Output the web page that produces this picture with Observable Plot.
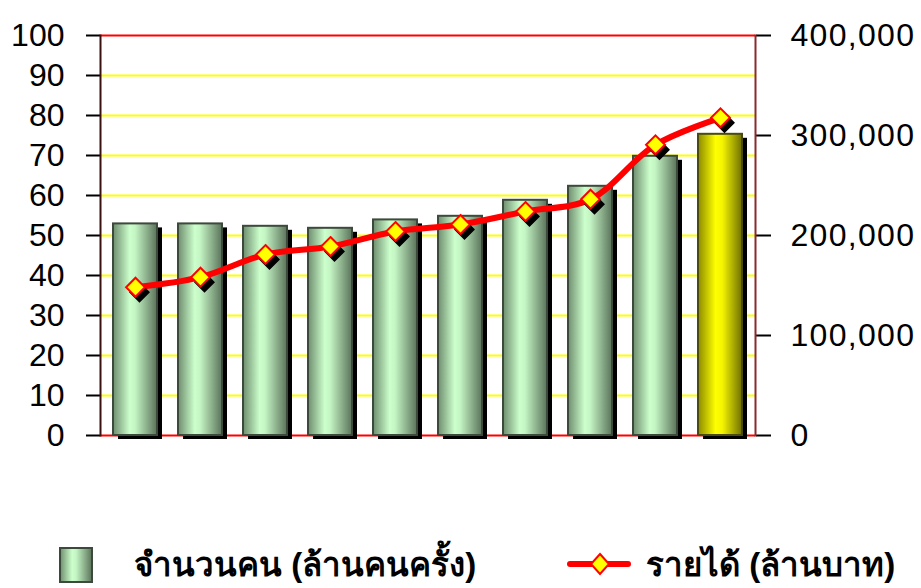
<!DOCTYPE html>
<html><head><meta charset="utf-8">
<script src="https://cdn.jsdelivr.net/npm/d3@7"></script>
<script src="https://cdn.jsdelivr.net/npm/@observablehq/plot@0.6"></script>
<style>
body{margin:0;background:#fff;font-family:Arial,"Liberation Sans",sans-serif;}
#chart svg{display:block;}
#legend{position:relative;width:921px;height:68px;overflow:hidden;}
#legend .item{position:absolute;font-weight:bold;font-size:33px;line-height:36px;color:#000;white-space:nowrap;}
</style></head><body>
<div id="chart"></div>
<div id="legend"></div>
<script>
const categories = ["2541","2542","2543","2544","2545","2546","2547","2548","2549","2550"];
const visitors = [52.9, 52.9, 52.3, 51.8, 53.9, 54.8, 58.8, 62.3, 69.8, 75.3];
const revenue = [148300, 158300, 181000, 189000, 204000, 211000, 224000, 236300, 290700, 317700];
const leftTicks = [0,10,20,30,40,50,60,70,80,90,100];
const rightTicks = [0,100000,200000,300000,400000];
const seriesNames = ["จำนวนคน (ล้านคนครั้ง)", "รายได้ (ล้านบาท)"];

const RATIO = 4000;
const data = categories.map((c,i)=>({cat:c, visitors:visitors[i], revenue:revenue[i], idx:i}));
const last = categories.length - 1;

const chart = Plot.plot({
  width: 921, height: 520,
  marginLeft: 100, marginRight: 166, marginTop: 35, marginBottom: 85,
  style: {fontSize: "32px", fontFamily: "Arial, 'Liberation Sans', sans-serif", color: "#000", background: "#fff"},
  x: {domain: categories, paddingInner: 0.33, paddingOuter: 0.165, axis: null},
  y: {domain: [0,100], axis: null},
  marks: [
    Plot.ruleY(leftTicks.filter(v => v>0 && v<100), {stroke:"#ffff00", strokeWidth:2}),
    Plot.ruleY([0,100], {stroke:"#ff0000", strokeWidth:2}),
    Plot.barY(data, {x:"cat", y:"visitors", fill:"#000", dx:5, dy:4}),
    Plot.barY(data, {filter: d => d.idx !== last, x:"cat", y:"visitors", fill:"url(#gGreen)", stroke:"#3c4a3c", strokeWidth:2}),
    Plot.barY(data, {filter: d => d.idx === last, x:"cat", y:"visitors", fill:"url(#gYellow)", stroke:"#4a4a10", strokeWidth:2}),
    Plot.line(data, {x:"cat", y: d => d.revenue/RATIO, stroke:"#ff0000", strokeWidth:6, curve:"catmull-rom"}),
    Plot.dot(data, {x:"cat", y: d => d.revenue/RATIO, symbol:"diamond2", r:8.5, fill:"#000", stroke:"#000", dx:4, dy:5}),
    Plot.dot(data, {x:"cat", y: d => d.revenue/RATIO, symbol:"diamond2", r:8.5, fill:"#ffff00", stroke:"#ff0000", strokeWidth:2}),
    Plot.axisY(leftTicks, {anchor:"left", tickSize:14, tickPadding:22, stroke:"#000", strokeWidth:2, fill:"#000", label:null}),
    Plot.axisY(rightTicks.map(v => v/RATIO), {anchor:"right", tickSize:15, tickPadding:20, stroke:"#000", strokeWidth:2, fill:"#000", label:null, tickFormat: d => d3.format(",")(Math.round(d*RATIO))}),
    Plot.frame({anchor:"left", stroke:"#3a1010", strokeWidth:2}),
    Plot.frame({anchor:"right", stroke:"#8a2a2a", strokeWidth:2})
  ]
});

const ns = "http://www.w3.org/2000/svg";
function makeGrad(id, stops){
  const g = document.createElementNS(ns, "linearGradient");
  g.setAttribute("id", id);
  g.setAttribute("x1","0"); g.setAttribute("x2","1"); g.setAttribute("y1","0"); g.setAttribute("y2","0");
  for (const [o,c] of stops){
    const s = document.createElementNS(ns, "stop");
    s.setAttribute("offset", o); s.setAttribute("stop-color", c);
    g.appendChild(s);
  }
  return g;
}
const defs = document.createElementNS(ns, "defs");
defs.appendChild(makeGrad("gGreen", [[0,"#6e8d6e"],[0.38,"#ccffcc"],[0.5,"#c4f5c4"],[1,"#5b735b"]]));
defs.appendChild(makeGrad("gYellow", [[0,"#8a8a00"],[0.4,"#ffff00"],[0.55,"#f5f500"],[1,"#707000"]]));
chart.insertBefore(defs, chart.firstChild);

// widen right-axis labels slightly
chart.querySelectorAll('g[aria-label="y-axis tick label"]').forEach(g => {
  if (Array.from(g.querySelectorAll("text")).some(t => t.textContent.includes(","))) {
    g.style.letterSpacing = "1.3px";
  }
});
document.getElementById("chart").appendChild(chart);

// legend
const legend = document.getElementById("legend");
legend.innerHTML = `
<svg style="position:absolute;left:58px;top:26px" width="36" height="38">
  <defs>${defs.innerHTML.replace(/id="g/g,'id="lg')}</defs>
  <rect x="2" y="2" width="32" height="34" fill="url(#lgGreen)" stroke="#3c4a3c" stroke-width="2"/>
</svg>
<span class="item" style="left:134px;top:27px">${seriesNames[0]}</span>
<svg style="position:absolute;left:566px;top:31px" width="66" height="26">
  <line x1="4" y1="13" x2="62" y2="13" stroke="#ff0000" stroke-width="6" stroke-linecap="round"/>
  <path d="M34 3 L43 13 L34 23 L25 13 Z" fill="#ffff00" stroke="#ff0000" stroke-width="2"/>
</svg>
<span class="item" style="left:646px;top:27px">${seriesNames[1]}</span>`;
</script>
</body></html>
